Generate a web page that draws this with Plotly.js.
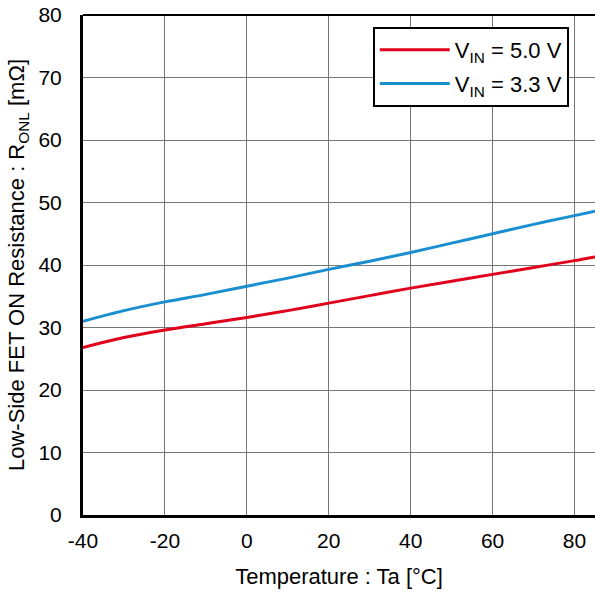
<!DOCTYPE html>
<html>
<head>
<meta charset="utf-8">
<script src="https://cdn.plot.ly/plotly-3.0.1.min.js"></script>
<style>html,body{margin:0;padding:0;background:#fff;}#chart{width:595px;height:594px;}</style>
</head>
<body>
<div id="chart"></div>
<script>
const temperature = [-40, -30, -20, -10, 0, 10, 20, 30, 40, 50, 60, 70, 80, 85];
const ronl_vin50 = [26.8, 28.4, 29.6, 30.6, 31.6, 32.7, 33.9, 35.1, 36.3, 37.4, 38.5, 39.6, 40.7, 41.3];
const ronl_vin33 = [31.0, 32.7, 34.1, 35.3, 36.6, 37.9, 39.3, 40.6, 42.0, 43.5, 45.0, 46.5, 47.9, 48.6];
const seriesNames = ['V<sub>IN</sub> = 5.0 V', 'V<sub>IN</sub> = 3.3 V'];
const xTicks = [-40, -20, 0, 20, 40, 60, 80];
const yTicks = [0, 10, 20, 30, 40, 50, 60, 70, 80];

const fam = 'Liberation Sans, Arial, sans-serif';
const tickFont = {family: fam, size: 21, color: '#000'};
const titleFont = {family: fam, size: 22, color: '#000'};

const traces = [
  {x: temperature, y: ronl_vin50, name: seriesNames[0], mode: 'lines', legendgroup: 'a',
   line: {color: '#e0001b', width: 3, shape: 'spline'}},
  {x: temperature, y: ronl_vin33, name: seriesNames[1], mode: 'lines', legendgroup: 'b',
   line: {color: '#1a8fd0', width: 3, shape: 'spline'}}
];

const layout = {
  width: 595, height: 594,
  margin: {l: 83, r: 0, t: 15, b: 79},
  paper_bgcolor: '#fff', plot_bgcolor: '#fff',
  font: tickFont,
  showlegend: true,
  legend: {x: 0.566, y: 0.976, xanchor: 'left', yanchor: 'top',
           bgcolor: '#fff', bordercolor: '#000', borderwidth: 2,
           font: {family: fam, size: 22, color: '#000'},
           itemwidth: 70, tracegroupgap: 2},
  xaxis: {range: [-40, 85], tickvals: xTicks, ticktext: xTicks.map(String),
          showgrid: true, gridcolor: '#777', gridwidth: 1,
          showline: true, linecolor: '#000', linewidth: 3,
          zeroline: false, ticks: 'outside', ticklen: 5, tickcolor: 'rgba(0,0,0,0)',
          tickfont: tickFont,
          title: {text: 'Temperature : Ta [°C]', font: titleFont, standoff: 18}},
  yaxis: {range: [0, 80], tickvals: yTicks, ticktext: yTicks.map(String),
          showgrid: true, gridcolor: '#777', gridwidth: 1,
          showline: true, linecolor: '#000', linewidth: 3,
          zeroline: false, ticks: 'outside', ticklen: 14, tickcolor: 'rgba(0,0,0,0)',
          tickfont: tickFont,
          title: {text: 'Low-Side FET ON Resistance : R<sub>ONL</sub> [mΩ]', font: titleFont, standoff: 8}},
  shapes: [
    {type: 'line', xref: 'paper', yref: 'paper', x0: 0, x1: 1, y0: 1, y1: 1,
     line: {color: '#000', width: 2}}
  ]
};

Plotly.newPlot('chart', traces, layout, {displayModeBar: false, staticPlot: true});
</script>
</body>
</html>
